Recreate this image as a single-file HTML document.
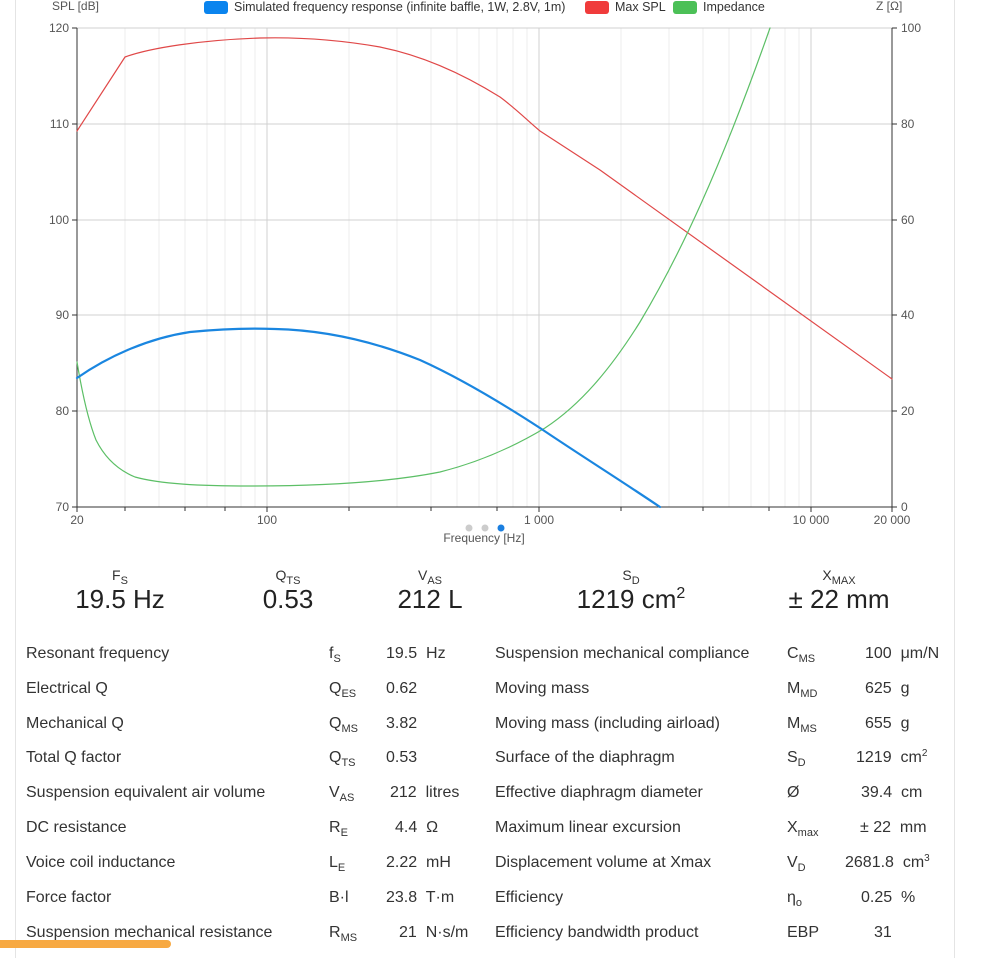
<!DOCTYPE html>
<html><head><meta charset="utf-8"><style>
html,body{margin:0;padding:0;background:#fff;width:992px;height:958px;overflow:hidden;font-family:"Liberation Sans","DejaVu Sans",sans-serif;color:#333;}
.a{position:absolute;white-space:nowrap;}
.t{font-size:16px;color:#333;}
sub{font-size:11px;vertical-align:-4px;line-height:0}
sup{font-size:10px;vertical-align:6px;line-height:0}
.hl{font-size:14px;color:#333;transform:translateX(-50%);}
.hv{font-size:26px;color:#222;transform:translateX(-50%);}
</style></head><body>
<div class="a" style="left:15px;top:0;width:1px;height:958px;background:#e4e4e4"></div>
<div class="a" style="left:954px;top:0;width:1px;height:958px;background:#e4e4e4"></div>
<svg class="a" style="left:0;top:0" width="992" height="550" font-family="Liberation Sans, sans-serif">
<g stroke="#ececec" stroke-width="1">
<line x1="125" y1="28" x2="125" y2="507"/><line x1="159" y1="28" x2="159" y2="507"/><line x1="185" y1="28" x2="185" y2="507"/><line x1="207" y1="28" x2="207" y2="507"/><line x1="225" y1="28" x2="225" y2="507"/><line x1="241" y1="28" x2="241" y2="507"/><line x1="255" y1="28" x2="255" y2="507"/>
<line x1="349" y1="28" x2="349" y2="507"/><line x1="397" y1="28" x2="397" y2="507"/><line x1="431" y1="28" x2="431" y2="507"/><line x1="457" y1="28" x2="457" y2="507"/><line x1="479" y1="28" x2="479" y2="507"/><line x1="497" y1="28" x2="497" y2="507"/><line x1="513" y1="28" x2="513" y2="507"/><line x1="527" y1="28" x2="527" y2="507"/>
<line x1="621" y1="28" x2="621" y2="507"/><line x1="669" y1="28" x2="669" y2="507"/><line x1="703" y1="28" x2="703" y2="507"/><line x1="729" y1="28" x2="729" y2="507"/><line x1="751" y1="28" x2="751" y2="507"/><line x1="769" y1="28" x2="769" y2="507"/><line x1="785" y1="28" x2="785" y2="507"/><line x1="799" y1="28" x2="799" y2="507"/>
</g>
<g stroke="#d0d0d0" stroke-width="1">
<line x1="267" y1="28" x2="267" y2="507"/><line x1="539" y1="28" x2="539" y2="507"/><line x1="811" y1="28" x2="811" y2="507"/>
<line x1="77" y1="28" x2="892" y2="28"/><line x1="77" y1="124" x2="892" y2="124"/><line x1="77" y1="220" x2="892" y2="220"/><line x1="77" y1="315" x2="892" y2="315"/><line x1="77" y1="411" x2="892" y2="411"/>
</g>
<g stroke="#333" stroke-width="1">
<line x1="77" y1="28" x2="77" y2="507"/><line x1="892" y1="28" x2="892" y2="507"/><line x1="77" y1="507" x2="892" y2="507"/>
<line x1="72" y1="28" x2="77" y2="28"/><line x1="72" y1="124" x2="77" y2="124"/><line x1="72" y1="220" x2="77" y2="220"/><line x1="72" y1="315" x2="77" y2="315"/><line x1="72" y1="411" x2="77" y2="411"/><line x1="72" y1="507" x2="77" y2="507"/>
<line x1="892" y1="28" x2="897" y2="28"/><line x1="892" y1="124" x2="897" y2="124"/><line x1="892" y1="220" x2="897" y2="220"/><line x1="892" y1="315" x2="897" y2="315"/><line x1="892" y1="411" x2="897" y2="411"/><line x1="892" y1="507" x2="897" y2="507"/>
<line x1="77" y1="507" x2="77" y2="512"/><line x1="125" y1="507" x2="125" y2="511"/><line x1="185" y1="507" x2="185" y2="511"/><line x1="225" y1="507" x2="225" y2="511"/><line x1="267" y1="507" x2="267" y2="512"/><line x1="349" y1="507" x2="349" y2="511"/><line x1="431" y1="507" x2="431" y2="511"/><line x1="497" y1="507" x2="497" y2="511"/><line x1="539" y1="507" x2="539" y2="512"/><line x1="621" y1="507" x2="621" y2="511"/><line x1="703" y1="507" x2="703" y2="511"/><line x1="769" y1="507" x2="769" y2="511"/><line x1="811" y1="507" x2="811" y2="512"/><line x1="892" y1="507" x2="892" y2="512"/>
</g>
<g font-size="12" fill="#555" text-anchor="end">
<text x="69" y="32">120</text><text x="69" y="128">110</text><text x="69" y="224">100</text><text x="69" y="319">90</text><text x="69" y="415">80</text><text x="69" y="511">70</text>
</g>
<g font-size="12" fill="#555">
<text x="901" y="32">100</text><text x="901" y="128">80</text><text x="901" y="224">60</text><text x="901" y="319">40</text><text x="901" y="415">20</text><text x="901" y="511">0</text>
<text x="52" y="10">SPL [dB]</text><text x="876" y="10">Z [Ω]</text>
</g>
<g font-size="12" fill="#555" text-anchor="middle">
<text x="77" y="524">20</text><text x="267" y="524">100</text><text x="539" y="524">1 000</text><text x="811" y="524">10 000</text><text x="892" y="524">20 000</text>
<text x="484" y="542">Frequency [Hz]</text>
</g>
<circle cx="469" cy="528" r="3.5" fill="#ccc"/><circle cx="485" cy="528" r="3.5" fill="#ccc"/><circle cx="501" cy="528" r="3.5" fill="#1a7fe0"/>
<rect x="204" y="1" width="24" height="13" rx="3" fill="#0a84ee"/><text x="234" y="11" font-size="12.5" fill="#333">Simulated frequency response (infinite baffle, 1W, 2.8V, 1m)</text>
<rect x="585" y="1" width="24" height="13" rx="3" fill="#f03b3b"/><text x="615" y="11" font-size="12.5" fill="#333">Max SPL</text>
<rect x="673" y="1" width="24" height="13" rx="3" fill="#4cc057"/><text x="703" y="11" font-size="12.5" fill="#333">Impedance</text>
<g fill="none" stroke-linejoin="round" stroke-linecap="round">
<path stroke="#e04848" stroke-width="1.2" d="M77,131 L125,57 C150,48 200,40 260,38 C300,37 340,40 380,47 C420,55 460,72 500,97 C515,108 527,120 540,131 C560,144 580,157 600,170 L892,379"/>
<path stroke="#5cbf66" stroke-width="1.2" d="M77,362 C82,392 88,420 96,440 C105,458 118,470 135,477 C160,484 200,486 250,486 C320,486 390,482 440,472 C480,462 515,446 545,428 C580,405 610,370 640,322 C680,255 720,170 770,28"/>
<path stroke="#1a86e0" stroke-width="2.2" d="M77,378 C110,355 150,338 190,332 C220,329 250,328 275,329 C320,330 370,340 420,360 C460,378 500,402 540,428 C580,455 620,480 660,507"/>
</g>
</svg>
<div class="a hl" style="left:120px;top:567px">F<sub>S</sub></div><div class="a hv" style="left:120px;top:584px">19.5 Hz</div>
<div class="a hl" style="left:288px;top:567px">Q<sub>TS</sub></div><div class="a hv" style="left:288px;top:584px">0.53</div>
<div class="a hl" style="left:430px;top:567px">V<sub>AS</sub></div><div class="a hv" style="left:430px;top:584px">212 L</div>
<div class="a hl" style="left:631px;top:567px">S<sub>D</sub></div><div class="a hv" style="left:631px;top:584px">1219 cm<sup style="font-size:16px;vertical-align:10px">2</sup></div>
<div class="a hl" style="left:839px;top:567px">X<sub>MAX</sub></div><div class="a hv" style="left:839px;top:584px">± 22 mm</div>

<div class="a t" style="left:26px;top:645px">Resonant frequency</div><div class="a t" style="left:329px;top:645px">f<sub>S</sub></div><div class="a t" style="left:386px;top:645px">19.5&nbsp; Hz</div>
<div class="a t" style="left:26px;top:680px">Electrical Q</div><div class="a t" style="left:329px;top:680px">Q<sub>ES</sub></div><div class="a t" style="left:386px;top:680px">0.62</div>
<div class="a t" style="left:26px;top:715px">Mechanical Q</div><div class="a t" style="left:329px;top:715px">Q<sub>MS</sub></div><div class="a t" style="left:386px;top:715px">3.82</div>
<div class="a t" style="left:26px;top:749px">Total Q factor</div><div class="a t" style="left:329px;top:749px">Q<sub>TS</sub></div><div class="a t" style="left:386px;top:749px">0.53</div>
<div class="a t" style="left:26px;top:784px">Suspension equivalent air volume</div><div class="a t" style="left:329px;top:784px">V<sub>AS</sub></div><div class="a t" style="left:390px;top:784px">212&nbsp; litres</div>
<div class="a t" style="left:26px;top:819px">DC resistance</div><div class="a t" style="left:329px;top:819px">R<sub>E</sub></div><div class="a t" style="left:395px;top:819px">4.4&nbsp; Ω</div>
<div class="a t" style="left:26px;top:854px">Voice coil inductance</div><div class="a t" style="left:329px;top:854px">L<sub>E</sub></div><div class="a t" style="left:386px;top:854px">2.22&nbsp; mH</div>
<div class="a t" style="left:26px;top:889px">Force factor</div><div class="a t" style="left:329px;top:889px">B·l</div><div class="a t" style="left:386px;top:889px">23.8&nbsp; T·m</div>
<div class="a t" style="left:26px;top:924px">Suspension mechanical resistance</div><div class="a t" style="left:329px;top:924px">R<sub>MS</sub></div><div class="a t" style="left:399px;top:924px">21&nbsp; N·s/m</div>

<div class="a t" style="left:495px;top:645px">Suspension mechanical compliance</div><div class="a t" style="left:787px;top:645px">C<sub>MS</sub></div><div class="a t" style="left:865px;top:645px">100&nbsp; μm/N</div>
<div class="a t" style="left:495px;top:680px">Moving mass</div><div class="a t" style="left:787px;top:680px">M<sub>MD</sub></div><div class="a t" style="left:865px;top:680px">625&nbsp; g</div>
<div class="a t" style="left:495px;top:715px">Moving mass (including airload)</div><div class="a t" style="left:787px;top:715px">M<sub>MS</sub></div><div class="a t" style="left:865px;top:715px">655&nbsp; g</div>
<div class="a t" style="left:495px;top:749px">Surface of the diaphragm</div><div class="a t" style="left:787px;top:749px">S<sub>D</sub></div><div class="a t" style="left:856px;top:749px">1219&nbsp; cm<sup>2</sup></div>
<div class="a t" style="left:495px;top:784px">Effective diaphragm diameter</div><div class="a t" style="left:787px;top:784px">Ø</div><div class="a t" style="left:861px;top:784px">39.4&nbsp; cm</div>
<div class="a t" style="left:495px;top:819px">Maximum linear excursion</div><div class="a t" style="left:787px;top:819px">X<sub>max</sub></div><div class="a t" style="left:860px;top:819px">± 22&nbsp; mm</div>
<div class="a t" style="left:495px;top:854px">Displacement volume at Xmax</div><div class="a t" style="left:787px;top:854px">V<sub>D</sub></div><div class="a t" style="left:845px;top:854px">2681.8&nbsp; cm<sup>3</sup></div>
<div class="a t" style="left:495px;top:889px">Efficiency</div><div class="a t" style="left:787px;top:889px">η<sub>o</sub></div><div class="a t" style="left:861px;top:889px">0.25&nbsp; %</div>
<div class="a t" style="left:495px;top:924px">Efficiency bandwidth product</div><div class="a t" style="left:787px;top:924px">EBP</div><div class="a t" style="left:874px;top:924px">31</div>

<div class="a" style="left:0;top:940px;width:171px;height:8px;background:#f7a942;border-radius:0 4px 4px 0"></div>
</body></html>
